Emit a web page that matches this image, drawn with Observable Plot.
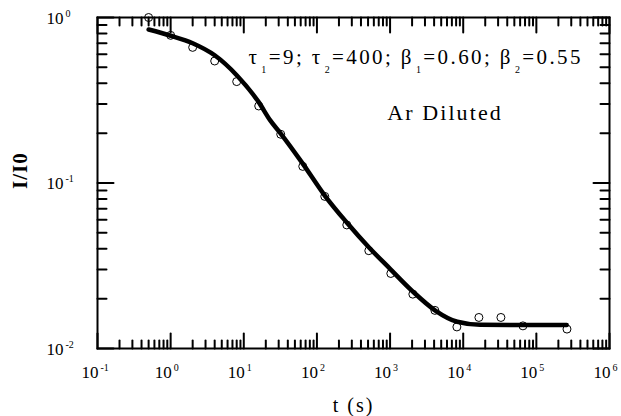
<!DOCTYPE html>
<html><head><meta charset="utf-8">
<script src="https://cdn.jsdelivr.net/npm/d3@7"></script>
<script src="https://cdn.jsdelivr.net/npm/@observablehq/plot@0.6"></script>
<style>body{margin:0;background:#fff;} svg{display:block;}</style>
</head><body><div id="chart"></div>
<script>
// measured data (open circles)
const times = [0.5, 1, 2, 4, 8, 16, 32, 64, 128, 256, 512, 1024, 2048, 4096, 8192, 16384, 32768, 65536, 262144];
const ratio = [1.0, 0.78, 0.66, 0.546, 0.41, 0.292, 0.197, 0.126, 0.083, 0.0558, 0.039, 0.0284, 0.0213, 0.017, 0.0135, 0.0154, 0.0154, 0.0137, 0.0131];
// fitted curve
const fitTimes = [0.5, 1, 2, 4, 8, 16, 23, 32, 64, 128, 256, 512, 1000, 2000, 4200, 8300, 17000, 260000];
const fitRatio = [0.846, 0.776, 0.699, 0.591, 0.448, 0.308, 0.239, 0.199, 0.131, 0.084, 0.0577, 0.0409, 0.0303, 0.0223, 0.0169, 0.0145, 0.0139, 0.01386];
// axes ticks
const xMajor = [0.1, 1, 10, 100, 1000, 10000, 100000, 1000000];
const xExp = ["-1", "0", "1", "2", "3", "4", "5", "6"];
const yMajor = [0.01, 0.1, 1];
const yExp = ["-2", "-1", "0"];
const mult = [2, 3, 4, 5, 6, 7, 8, 9];
const xMinor = xMajor.slice(0, -1).flatMap(d => mult.map(m => d * m));
const yMinor = yMajor.slice(0, -1).flatMap(d => mult.map(m => d * m));
const annotation = "τ1=9; τ2=400; β1=0.60; β2=0.55";
const label = "Ar Diluted";
const xTitle = "t (s)";
const yTitle = "I/I0";

const font = "Liberation Serif";
const points = times.map((t, i) => ({t, r: ratio[i]}));
const fit = fitTimes.map((t, i) => ({t, r: fitRatio[i]}));
const tickShape = {draw(context, l) { context.moveTo(0, 0); context.lineTo(0, -l); }};
const X0 = 0.1, X1 = 1e6, Y0 = 0.01, Y1 = 1;
const tk = (data, opts) => Plot.vector(data, {shape: tickShape, anchor: "start", stroke: "black", strokeWidth: 2, ...opts});

const chart = Plot.plot({
  width: 621, height: 416,
  marginLeft: 97, marginRight: 12, marginTop: 17, marginBottom: 68,
  style: {fontFamily: font, background: "white", color: "black"},
  x: {type: "log", domain: [X0, X1], axis: null},
  y: {type: "log", domain: [Y0, Y1], axis: null},
  marks: [
    // ticks bottom / top
    tk(xMajor, {x: d => d, y: () => Y0, length: 15, rotate: 0}),
    tk(xMinor, {x: d => d, y: () => Y0, length: 8, rotate: 0}),
    tk(xMajor, {x: d => d, y: () => Y1, length: 15, rotate: 180}),
    tk(xMinor, {x: d => d, y: () => Y1, length: 8, rotate: 180}),
    // ticks left / right
    tk(yMajor, {y: d => d, x: () => X0, length: 16, rotate: 90}),
    tk(yMinor, {y: d => d, x: () => X0, length: 9, rotate: 90}),
    tk(yMajor, {y: d => d, x: () => X1, length: 16, rotate: -90}),
    tk(yMinor, {y: d => d, x: () => X1, length: 9, rotate: -90}),
    Plot.frame({stroke: "black", strokeWidth: 2}),
    // tick labels
    Plot.text(xMajor, {x: d => d, y: () => Y0, text: () => "10", textAnchor: "end", dx: 1, dy: 24, fontSize: 17}),
    Plot.text(xMajor, {x: d => d, y: () => Y0, text: (d, i) => xExp[i], textAnchor: "start", dx: 3, dy: 19, fontSize: 10}),
    Plot.text(yMajor, {y: d => d, x: () => X0, text: () => "10", textAnchor: "end", dx: -34, dy: 1, fontSize: 17}),
    Plot.text(yMajor, {y: d => d, x: () => X0, text: (d, i) => yExp[i], textAnchor: "start", dx: -32, dy: -4, fontSize: 10}),
    // axis titles
    Plot.text([xTitle], {frameAnchor: "bottom", lineAnchor: "middle", dy: 57, fontSize: 20}),
    Plot.text([yTitle], {frameAnchor: "left", lineAnchor: "middle", dx: -77, dy: 6, rotate: -90, fontSize: 21, fontWeight: "bold"}),
    // data
    Plot.dot(points, {x: "t", y: "r", r: 4, stroke: "black", strokeWidth: 1, fill: "none"}),
    Plot.line(fit, {x: "t", y: "r", stroke: "black", strokeWidth: 4.5, curve: "monotone-x"}),
    // annotations
    Plot.text([annotation], {x: () => 11.6, y: () => 0.575, textAnchor: "start", fontSize: 21}),
    Plot.text([label], {x: () => 5640, y: () => 0.2634, fontSize: 22})
  ]
});

const spacing = {[annotation]: 2.4, [label]: 2.1, [xTitle]: 2, [yTitle]: 1};
d3.select(chart).selectAll("text").each(function() {
  const s = spacing[this.textContent];
  if (s != null) this.setAttribute("letter-spacing", s);
});

// subscripts in the annotation
d3.select(chart).selectAll("text").filter(function() { return this.textContent === annotation; }).each(function() {
  const el = d3.select(this);
  el.text("");
  const parts = [["τ", 0], ["1", 1], ["=9; τ", 0], ["2", 1], ["=400; β", 0], ["1", 1], ["=0.60; β", 0], ["2", 1], ["=0.55", 0]];
  let prevSub = false;
  parts.forEach(([s, sub]) => {
    const t = el.append("tspan").text(s);
    if (sub) { t.attr("font-size", 10).attr("dy", 9).attr("dx", 2); prevSub = true; }
    else if (prevSub) { t.attr("dy", -9); prevSub = false; }
  });
});

document.getElementById("chart").appendChild(chart);
</script>
</body></html>
